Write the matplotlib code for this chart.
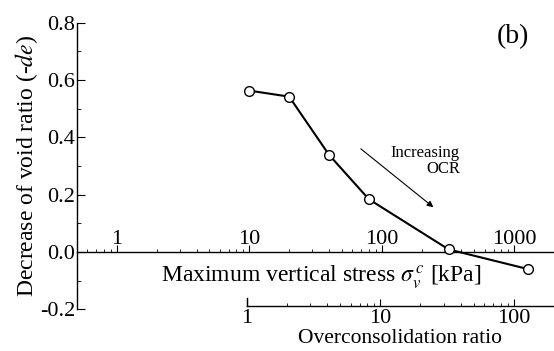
import matplotlib
matplotlib.use('Agg')
import matplotlib.pyplot as plt
from matplotlib.ticker import FixedLocator, LogLocator, NullFormatter, MultipleLocator, FormatStrFormatter

plt.rcParams['font.family'] = ['Liberation Serif', 'DejaVu Serif']
plt.rcParams['mathtext.fontset'] = 'stix'
plt.rcParams['axes.unicode_minus'] = False
plt.rcParams['axes.linewidth'] = 1.0

# maximum vertical stress (kPa) and decrease of void ratio
stress = [10, 20, 40, 80, 320, 1280]
de = [0.563, 0.542, 0.339, 0.184, 0.009, -0.060]

stress_ticks = [1, 10, 100, 1000]
ocr_ticks = [1, 10, 100]

W, H = 554, 351
fig = plt.figure(figsize=(W / 100, H / 100), dpi=100)

ax = fig.add_axes([77 / W, (H - 309.3) / H, (W - 77) / W, 286.6 / H])
ax.set_xscale('log')
ax.set_xlim(0.5, 2000)
ax.set_ylim(-0.2, 0.8)

ax.plot(stress, de, '-o', color='black', lw=1.5, ms=7,
        mfc='white', mec='black', mew=1.0, zorder=3, clip_on=False)

# stress axis sits on the zero line, labels above it
ax.spines['right'].set_visible(False)
ax.spines['bottom'].set_visible(False)
ax.spines['top'].set_position(('data', 0))
ax.xaxis.set_ticks_position('top')
ax.xaxis.set_major_locator(FixedLocator(stress_ticks))
ax.set_xticklabels([str(t) for t in stress_ticks])
ax.xaxis.set_minor_locator(LogLocator(base=10, subs=range(2, 10)))
ax.xaxis.set_minor_formatter(NullFormatter())
ax.tick_params(axis='x', which='both', direction='out', top=True, bottom=False,
               labeltop=True, labelbottom=False, labelsize=16)
ax.tick_params(axis='x', which='major', length=5, pad=-2.5)
ax.tick_params(axis='x', which='minor', length=2.5)

ax.yaxis.set_major_locator(MultipleLocator(0.2))
ax.yaxis.set_minor_locator(MultipleLocator(0.1))
ax.yaxis.set_major_formatter(FormatStrFormatter('%.1f'))
ax.tick_params(axis='y', which='both', direction='in', labelsize=16, pad=1.5)
ax.tick_params(axis='y', which='major', length=5.5)
ax.tick_params(axis='y', which='minor', length=3)

ax.set_ylabel('Decrease of void ratio (-$\\it{de}$)', fontsize=17, labelpad=0)
ax.text(0.512, 0.096, 'Maximum vertical stress $\\sigma_v^{\\,c}$ [kPa]',
        transform=ax.transAxes, ha='center', va='baseline', fontsize=17)

ax.annotate('', xy=(255, 0.150), xytext=(67, 0.366),
            arrowprops=dict(arrowstyle='-|>', color='black', lw=0.8,
                            mutation_scale=9))
ax.text(390, 0.372, 'Increasing\nOCR', ha='right', va='top',
        multialignment='right', fontsize=12, linespacing=1.0)

fig.text(513 / W, 1 - 37 / H, '(b)', ha='center', va='center', fontsize=20)

# overconsolidation ratio scale (OCR = stress / 10)
ax2 = fig.add_axes([246.7 / W, (H - 306) / H, (W - 246.7) / W, 8.3 / H])
ax2.set_xscale('log')
ax2.set_xlim(1, 200)
ax2.patch.set_visible(False)
ax2.spines['top'].set_visible(False)
ax2.spines['right'].set_visible(False)
ax2.set_yticks([])
ax2.xaxis.set_major_locator(FixedLocator(ocr_ticks))
ax2.set_xticklabels([str(t) for t in ocr_ticks])
ax2.xaxis.set_minor_locator(LogLocator(base=10, subs=range(2, 10)))
ax2.xaxis.set_minor_formatter(NullFormatter())
ax2.tick_params(axis='x', which='both', direction='in', labelsize=16, pad=2)
ax2.tick_params(axis='x', which='major', length=5)
ax2.tick_params(axis='x', which='minor', length=2.5)
ax2.set_xlabel('Overconsolidation ratio', fontsize=15.5, labelpad=1)

fig.savefig('out.png', dpi=100)
